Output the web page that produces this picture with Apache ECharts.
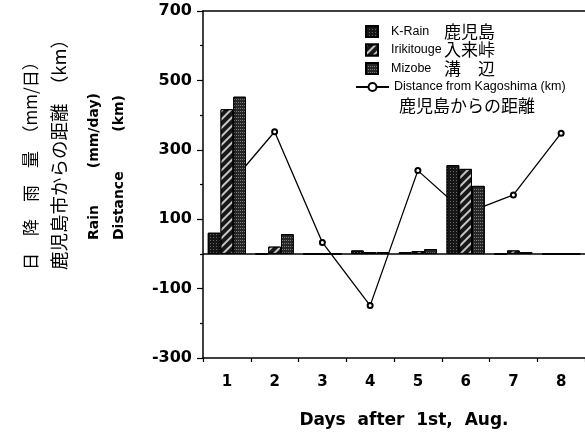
<!DOCTYPE html>
<html>
<head>
<meta charset="utf-8">
<script src="https://cdn.jsdelivr.net/npm/echarts@6/dist/echarts.min.js"></script>
<style>
  html, body { margin: 0; padding: 0; background: #fff; }
  #chart { width: 585px; height: 442px; }
</style>
</head>
<body>
<div id="chart"></div>
<script>
// Daily rainfall at three stations (mm/day) and typhoon distance from Kagoshima (km)
const days = ['1', '2', '3', '4', '5', '6', '7', '8'];
const kRain = [61, 0, 0, 10, 5, 256, 0, 0];
const irikitouge = [417, 21, 0, 5, 8, 245, 10, 0];
const mizobe = [453, 57, 0, 5, 14, 196, 5, 0];
const distance = [190, 352, 33, -149, 240, 117, 170, 348];

const stationNames = ['K-Rain', 'Irikitouge', 'Mizobe'];
const stationNamesJa = ['鹿児島', '入来峠', '溝　辺'];
const distanceName = 'Distance from Kagoshima (km)';
const distanceNameJa = '鹿児島からの距離';

const yMajorTicks = [-300, -100, 100, 300, 500, 700];
const yMinorTicks = [-200, 0, 200, 400, 600];

const chart = echarts.init(document.getElementById('chart'), null, { renderer: 'canvas' });

const tickFont = 'DejaVu Sans';
const jaFont = 'Noto Sans CJK JP';

const barBorder = { borderColor: '#000', borderWidth: 1 };

const option = {
  animation: false,
  backgroundColor: '#fff',
  grid: { left: 203, right: 0, top: 11, bottom: 84, containLabel: false },
  legend: [
    {
      data: stationNames,
      orient: 'vertical',
      left: 365,
      top: 23,
      padding: 0,
      itemWidth: 12,
      itemHeight: 11,
      itemGap: 1.5,
      icon: 'rect',
      selectedMode: false,
      formatter: function (name) {
        return '{en|' + name + '}{jp|' + stationNamesJa[stationNames.indexOf(name)] + '}';
      },
      textStyle: {
        color: '#000',
        rich: {
          en: { fontFamily: 'Liberation Sans', fontSize: 12.5, color: '#000', width: 53, padding: [0, 0, 0, 8], lineHeight: 18 },
          jp: { fontFamily: jaFont, fontSize: 17, color: '#000', lineHeight: 18 }
        }
      }
    },
    {
      data: [distanceName],
      orient: 'vertical',
      left: 355,
      top: 63,
      padding: 0,
      itemWidth: 33,
      itemHeight: 10,
      selectedMode: false,
      formatter: function (name) {
        return '{sp| }\n{en|' + name + '}\n{jp|' + distanceNameJa + '}';
      },
      textStyle: {
        color: '#000',
        rich: {
          sp: { fontSize: 10, lineHeight: 24 },
          en: { fontFamily: 'Liberation Sans', fontSize: 12.5, color: '#000', lineHeight: 14 },
          jp: { fontFamily: jaFont, fontSize: 17, color: '#000', lineHeight: 24, padding: [0, 0, 0, 5] }
        }
      }
    }
  ],
  xAxis: [
    {
      type: 'category',
      data: days,
      position: 'bottom',
      axisLine: { onZero: false, lineStyle: { color: '#000', width: 1.5 } },
      axisTick: { show: true, length: 4, lineStyle: { color: '#000', width: 1.2 } },
      axisLabel: { color: '#000', fontFamily: tickFont, fontWeight: 'bold', fontSize: 15, margin: 17 },
      name: 'Days  after  1st,  Aug.',
      nameLocation: 'middle',
      nameGap: 54,
      nameTextStyle: { color: '#000', fontFamily: tickFont, fontWeight: 'bold', fontSize: 17, padding: [0, 0, 0, 20] }
    },
    {
      type: 'category',
      data: days,
      position: 'top',
      axisLine: { onZero: false, lineStyle: { color: '#000', width: 1.5 } },
      axisTick: { show: false },
      axisLabel: { show: false }
    }
  ],
  yAxis: [
    {
      type: 'value',
      min: -300,
      max: 700,
      position: 'left',
      splitLine: { show: false },
      axisLine: { show: true, onZero: false, lineStyle: { color: '#000', width: 1.5 } },
      axisTick: { show: true, length: 6, customValues: yMajorTicks, lineStyle: { color: '#000', width: 1.2 } },
      axisLabel: { customValues: yMajorTicks, color: '#000', fontFamily: tickFont, fontWeight: 'bold', fontSize: 16, margin: 11 }
    },
    {
      type: 'value',
      min: -300,
      max: 700,
      position: 'left',
      splitLine: { show: false },
      axisLine: { show: false },
      axisTick: { show: true, length: 3, customValues: yMinorTicks, lineStyle: { color: '#000', width: 1.2 } },
      axisLabel: { show: false }
    }
  ],
  series: [
    {
      name: 'K-Rain',
      type: 'bar',
      data: kRain,
      barGap: '0%',
      barCategoryGap: '20%',
      z: 3,
      itemStyle: Object.assign({
        color: '#161616',
        decal: { symbol: 'rect', symbolSize: 1, dashArrayX: [1, 2], dashArrayY: [1, 2], color: 'rgba(255,255,255,0.35)' }
      }, barBorder),
      markLine: {
        silent: true,
        symbol: 'none',
        label: { show: false },
        lineStyle: { color: '#000', type: 'solid', width: 1.5 },
        data: [{ yAxis: 0 }]
      }
    },
    {
      name: 'Irikitouge',
      type: 'bar',
      data: irikitouge,
      barGap: '0%',
      barCategoryGap: '20%',
      z: 3,
      itemStyle: Object.assign({
        color: '#181818',
        decal: { symbol: 'rect', symbolSize: 1, dashArrayX: [[1, 0]], dashArrayY: [1.5, 3.5], rotation: -Math.PI / 4, color: 'rgba(255,255,255,0.75)' }
      }, barBorder)
    },
    {
      name: 'Mizobe',
      type: 'bar',
      data: mizobe,
      barGap: '0%',
      barCategoryGap: '20%',
      z: 3,
      itemStyle: Object.assign({
        color: '#262626',
        decal: { symbol: 'rect', symbolSize: 1, dashArrayX: [1, 1], dashArrayY: [1, 2], color: 'rgba(255,255,255,0.4)' }
      }, barBorder)
    },
    {
      name: distanceName,
      type: 'line',
      data: distance,
      z: 1,
      symbol: 'emptyCircle',
      symbolSize: 5,
      lineStyle: { color: '#000', width: 1.3 },
      itemStyle: { color: '#000', borderColor: '#000', borderWidth: 1.8 }
    }
  ],
  graphic: [
    {
      type: 'text', x: 31, y: 270, rotation: Math.PI / 2,
      style: { text: '日　降　雨　量　（mm/日）', font: '17px "' + jaFont + '"', fill: '#000', textAlign: 'left', textVerticalAlign: 'middle' }
    },
    {
      type: 'text', x: 59, y: 270, rotation: Math.PI / 2,
      style: { text: '鹿児島市からの距離　（km）', font: '18.5px "' + jaFont + '"', fill: '#000', textAlign: 'left', textVerticalAlign: 'middle' }
    },
    {
      type: 'text', x: 94, y: 240, rotation: Math.PI / 2,
      style: { text: 'Rain', font: 'bold 14px "' + tickFont + '"', fill: '#000', textAlign: 'left', textVerticalAlign: 'middle' }
    },
    {
      type: 'text', x: 94, y: 93, rotation: Math.PI / 2,
      style: { text: '(mm/day)', font: 'bold 14px "' + tickFont + '"', fill: '#000', textAlign: 'right', textVerticalAlign: 'middle' }
    },
    {
      type: 'text', x: 119, y: 240, rotation: Math.PI / 2,
      style: { text: 'Distance', font: 'bold 14px "' + tickFont + '"', fill: '#000', textAlign: 'left', textVerticalAlign: 'middle' }
    },
    {
      type: 'text', x: 119, y: 95, rotation: Math.PI / 2,
      style: { text: '(km)', font: 'bold 14px "' + tickFont + '"', fill: '#000', textAlign: 'right', textVerticalAlign: 'middle' }
    }
  ]
};

chart.setOption(option);
</script>
</body>
</html>
